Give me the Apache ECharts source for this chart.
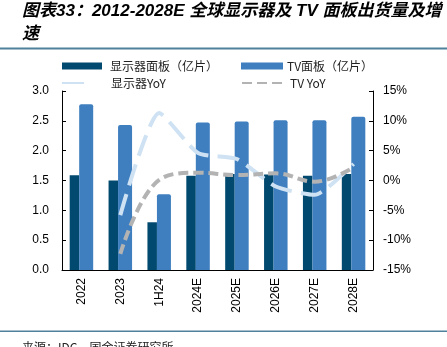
<!DOCTYPE html>
<html>
<head>
<meta charset="utf-8">
<script src="https://cdn.jsdelivr.net/npm/echarts@6/dist/echarts.min.js"></script>
<style>
html,body{margin:0;padding:0;background:#fff;}
#c{width:447px;height:347px;}
</style>
</head>
<body>
<div id="c"></div>
<script>
const categories = ['2022','2023','1H24','2024E','2025E','2026E','2027E','2028E'];
const displayPanel = [1.59, 1.50, 0.80, 1.58, 1.61, 1.60, 1.58, 1.61];
const tvPanel = [2.78, 2.43, 1.27, 2.47, 2.49, 2.51, 2.51, 2.57];
const displayYoY = [null, -5.8, 11.3, 4.6, 3.6, -1.0, -2.4, 2.8];
const tvYoY = [null, -12.3, 0.1, 1.3, 0.9, 1.2, -0.2, 2.2];
const leftTicks = {min: 0, max: 3, interval: 0.5};
const rightTicks = {min: -15, max: 15, interval: 5};

const names = ['显示器面板（亿片）', 'TV面板（亿片）', '显示器YoY', 'TV YoY'];
const colors = ['#02496f', '#3f7fbf', '#cfe2f3', '#b3b3b3'];
const fontLat = 'Liberation Sans, Arial, sans-serif';
const fontCJK = '"Noto Sans CJK SC", "Liberation Sans", sans-serif';

const chart = echarts.init(document.getElementById('c'));
function leg(left, top, item, extra, textPad) {
  return Object.assign({
    orient: 'horizontal', itemWidth: 40, itemHeight: 7, padding: 0,
    left: left, top: top, data: [item], selectedMode: false,
    textStyle: {fontSize: 12, color: '#222', fontFamily: fontCJK, padding: [0,0,0,textPad]}
  }, extra || {});
}
chart.setOption({
  animation: false,
  graphic: [
    {type: 'text', left: 22, top: 0, style: {
      text: '图表33：2012-2028E 全球显示器及 TV 面板出货量及增\n速',
      font: 'italic bold 17px "Liberation Sans", "Noto Sans CJK SC", sans-serif',
      lineHeight: 23, fill: '#000'}},
    {type: 'rect', shape: {x: 0, y: 47.5, width: 447, height: 2}, style: {fill: '#4f809c'}},
    {type: 'rect', shape: {x: 0, y: 330.5, width: 447, height: 1.5}, style: {fill: '#4f809c'}},
    {type: 'text', left: 22, top: 341, style: {
      text: '来源：IDC，国金证券研究所', font: '12px "Noto Sans CJK SC", sans-serif', fill: '#222'}}
  ],
  legend: [
    leg(62, 60, {name: names[0], icon: 'rect'}, null, 3),
    leg(241, 60, {name: names[1], icon: 'rect'}, {itemWidth: 42}, -1),
    leg(61, 77, {name: names[2], itemStyle: {opacity: 0}}, {itemWidth: 28}, 16),
    leg(241, 77, {name: names[3], itemStyle: {opacity: 0}}, {itemWidth: 40}, 3)
  ],
  grid: {left: 62, right: 74, top: 91, bottom: 77},
  xAxis: {
    type: 'category', data: categories, boundaryGap: true,
    axisLine: {lineStyle: {color: '#000', width: 1}},
    axisTick: {inside: true, length: 4, lineStyle: {color: '#000'}},
    axisLabel: {rotate: 90, fontSize: 12, color: '#000', fontFamily: fontLat, margin: 8}
  },
  yAxis: [
    {type: 'value', min: leftTicks.min, max: leftTicks.max, interval: leftTicks.interval,
      axisLine: {show: true, lineStyle: {color: '#000'}},
      axisTick: {show: true, inside: true, length: 4, lineStyle: {color: '#000'}},
      splitLine: {show: false},
      axisLabel: {fontSize: 12, color: '#000', fontFamily: fontLat, margin: 13,
        formatter: v => v.toFixed(1)}},
    {type: 'value', min: rightTicks.min, max: rightTicks.max, interval: rightTicks.interval,
      position: 'right',
      axisLine: {show: true, lineStyle: {color: '#000'}},
      axisTick: {show: true, inside: true, length: 4, lineStyle: {color: '#000'}},
      splitLine: {show: false},
      axisLabel: {fontSize: 12, color: '#000', fontFamily: fontLat, margin: 10,
        formatter: '{value}%'}}
  ],
  series: [
    {name: names[0], type: 'bar', data: displayPanel, barWidth: 9.5, barGap: 0,
      itemStyle: {color: colors[0]}},
    {name: names[1], type: 'bar', data: tvPanel, barWidth: 14, barGap: 0,
      itemStyle: {color: colors[1], borderRadius: [2,2,0,0]}},
    {name: names[2], type: 'line', yAxisIndex: 1, data: displayYoY, symbol: 'none', smooth: 0.2,
      lineStyle: {color: colors[2], width: 4, type: [22, 9]}, itemStyle: {color: colors[2]}},
    {name: names[3], type: 'line', yAxisIndex: 1, data: tvYoY, symbol: 'none', smooth: 0.4,
      lineStyle: {color: colors[3], width: 4, type: [10, 5]}, itemStyle: {color: colors[3]}}
  ]
});
</script>
</body>
</html>
